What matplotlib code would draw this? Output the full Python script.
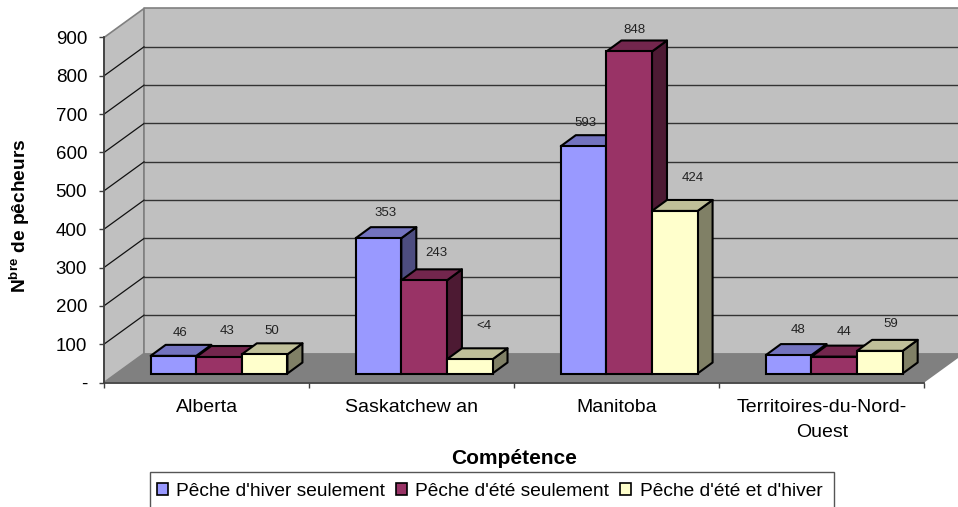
import matplotlib
matplotlib.use("Agg")
import matplotlib.pyplot as plt
from matplotlib.patches import Polygon, Patch, Rectangle

plt.rcParams["font.family"] = "Liberation Sans"
plt.rcParams["mathtext.fontset"] = "custom"
plt.rcParams["mathtext.bf"] = "Liberation Sans:bold"
plt.rcParams["mathtext.rm"] = "Liberation Sans"

categories = ["Alberta", "Saskatchew an", "Manitoba", "Territoires-du-Nord-\nOuest"]
series_names = ["Pêche d'hiver seulement", "Pêche d'été seulement", "Pêche d'été et d'hiver"]
hiver = [46, 353, 593, 48]
ete = [43, 243, 840, 44]
both = [50, 37, 424, 59]
hiver_labels = ["46", "353", "593", "48"]
ete_labels = ["43", "243", "848", "44"]
both_labels = ["50", "<4", "424", "59"]
yticks = [0, 100, 200, 300, 400, 500, 600, 700, 800, 900]
ytick_labels = ["-", "100", "200", "300", "400", "500", "600", "700", "800", "900"]

front_colors = ["#9999FF", "#993366", "#FFFFCC"]
top_colors = ["#7373BF", "#73264D", "#BFBF99"]
side_colors = ["#4D4D80", "#4D1A33", "#808066"]

# pixel sizes of the fake 3d, turned into data units below
px_x = 820.3 / 4
px_y = 345 / 900
depth_x, depth_y = 40 / px_x, 29 / px_y
bar_dx, bar_dy = 15 / px_x, 11 / px_y
lift_x, lift_y = 12.5 / px_x, 9 / px_y
bar_w = 45.6 / px_x

# hand nudges for the value labels in pixels, per category then series (right, up)
label_nudge = [
    [(7, 23), (8, 26), (7, 23)],
    [(7, 25), (12, 27), (14, 33)],
    [(2, 23), (5, 21), (18, 33)],
    [(9, 25), (10, 25), (11, 27)],
]

fig = plt.figure(figsize=(9.58, 5.07), dpi=100)
ax = fig.add_axes([104 / 958, (507 - 382.5) / 507, 820.3 / 958, 345 / 507])
ax.set_xlim(0, 4)
ax.set_ylim(0, 900)
ax.patch.set_visible(False)


def poly(points, color, edge="none", lw=0, z=1):
    ax.add_patch(Polygon(points, closed=True, facecolor=color, edgecolor=edge,
                         linewidth=lw, zorder=z, clip_on=False, joinstyle="round"))


# walls and floor
poly([(0, 0), (0, 900), (depth_x, 900 + depth_y), (depth_x, depth_y)], "#C0C0C0", "#808080", 1.2)
poly([(depth_x, depth_y), (depth_x, 900 + depth_y), (4 + depth_x, 900 + depth_y), (4 + depth_x, depth_y)],
     "#C0C0C0", "#808080", 1.2)
poly([(0, 0), (depth_x, depth_y), (4 + depth_x, depth_y), (4, 0)], "#808080", z=1.5)

for v in yticks[1:-1]:
    ax.plot([0, depth_x], [v, v + depth_y], color="#111111", lw=0.9, zorder=2, clip_on=False)
    ax.plot([depth_x, 4 + depth_x], [v + depth_y, v + depth_y], color="#333333", lw=1.0, zorder=2, clip_on=False)

all_values = [hiver, ete, both]
all_labels = [hiver_labels, ete_labels, both_labels]
group_w = 3 * bar_w
edge = "black"
z = 3
for c in range(len(categories)):
    start = c + (1 - group_w) / 2 + lift_x
    for s in range(3):
        h = all_values[s][c]
        x0 = start + s * bar_w
        x1 = x0 + bar_w
        y0 = lift_y
        y1 = lift_y + h
        poly([(x1, y0), (x1, y1), (x1 + bar_dx, y1 + bar_dy), (x1 + bar_dx, y0 + bar_dy)],
             side_colors[s], edge, 1.5, z)
        poly([(x0, y1), (x0 + bar_dx, y1 + bar_dy), (x1 + bar_dx, y1 + bar_dy), (x1, y1)],
             top_colors[s], edge, 1.5, z)
        ax.bar(x0, h, width=bar_w, bottom=y0, align="edge", color=front_colors[s],
               edgecolor=edge, linewidth=1.5, zorder=z, clip_on=False)
        nudge_x, nudge_y = label_nudge[c][s]
        ax.text(x0 + bar_w / 2 + nudge_x / px_x, y1 + nudge_y / px_y, all_labels[s][c], ha="center", va="center",
                fontsize=9.5, color="#222222", zorder=10, clip_on=False)
        z += 0.01

# axes
for name in ["top", "right"]:
    ax.spines[name].set_visible(False)
for name in ["left", "bottom"]:
    ax.spines[name].set_color("#404040")
    ax.spines[name].set_linewidth(1.3)
    ax.spines[name].set_zorder(2.5)
ax.set_yticks(yticks)
ax.set_yticklabels(ytick_labels, fontsize=13.5)
ax.set_xticks([0, 1, 2, 3, 4])
ax.set_xticklabels([])
ax.set_xticks([0.5, 1.5, 2.5, 3.5], minor=True)
ax.set_xticklabels(categories, minor=True, fontsize=14, linespacing=1.62)
ax.tick_params(axis="both", which="major", length=3.6, width=1, color="#404040", pad=8.5)
ax.tick_params(axis="x", which="minor", length=0, pad=12)

fig.text(514.5 / 958, 1 - 458 / 507, "Compétence", fontweight="bold", fontsize=15,
         ha="center", va="center")
fig.text(20 / 958, 1 - 215.5 / 507, r"$\mathbf{N^{bre}}$ de pêcheurs", fontweight="bold", fontsize=13.8,
         rotation=90, ha="center", va="center")

# legend box runs off the bottom of the picture in the original
fig.add_artist(Rectangle((150 / 958, -3 / 507), 684 / 958, 38 / 507, transform=fig.transFigure,
                         facecolor="white", edgecolor="#555555", linewidth=1))
handles = [Patch(facecolor=front_colors[i], edgecolor="black", linewidth=1.2) for i in range(3)]
leg = fig.legend(handles, series_names, ncol=3, loc="center", bbox_to_anchor=(489.5 / 958, 1 - 491 / 507),
                 fontsize=13.8, frameon=False,
                 handlelength=0.58, handleheight=0.58, handletextpad=0.45, columnspacing=0.55,
                 borderpad=0, borderaxespad=0)

fig.savefig("out.png", dpi=100)
